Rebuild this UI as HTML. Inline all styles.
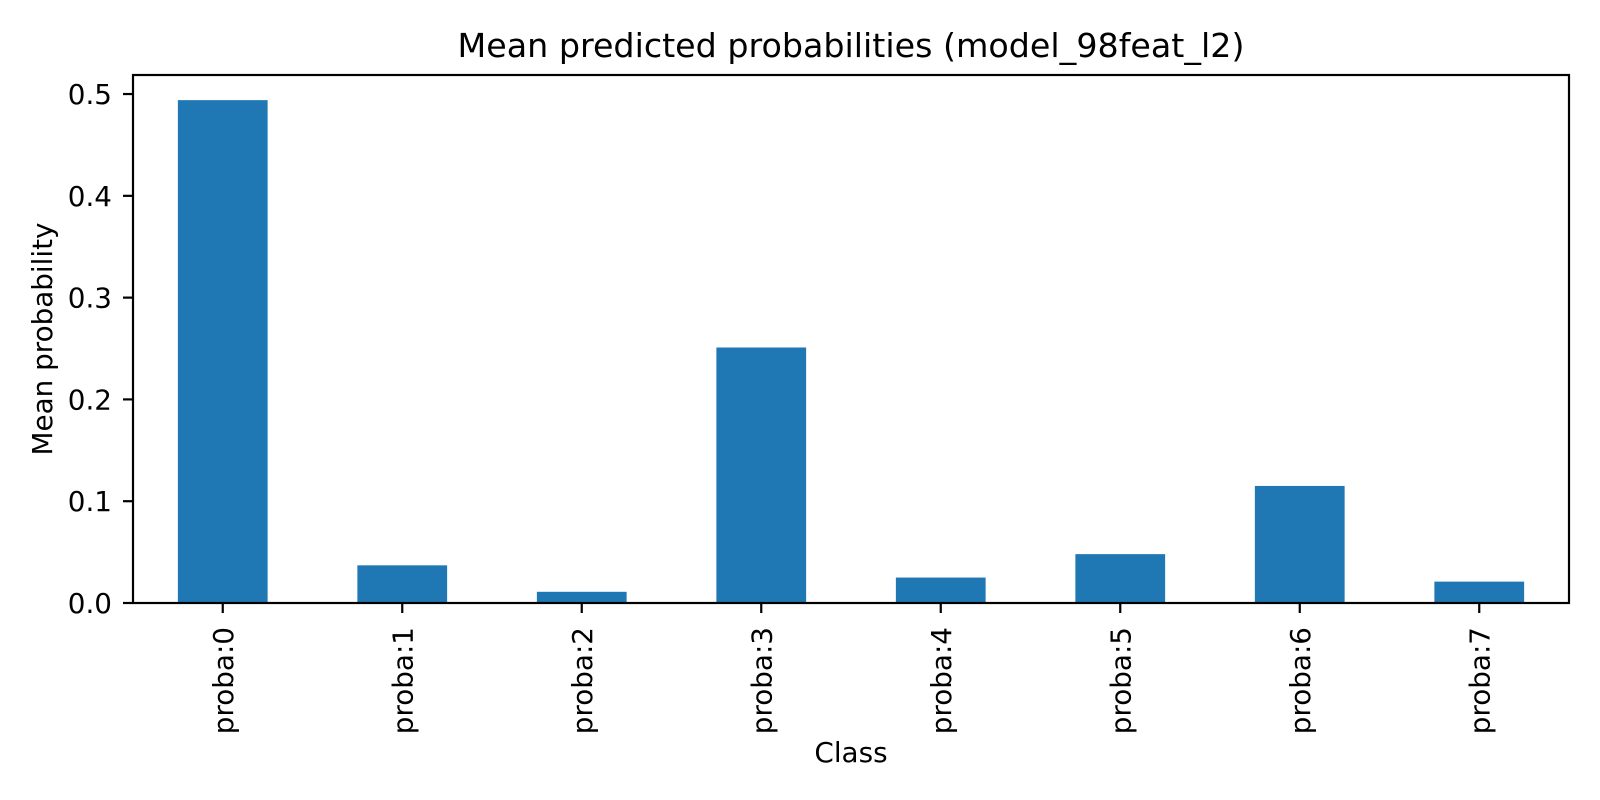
<!DOCTYPE html>
<html><head><meta charset="utf-8"><style>body{margin:0;background:#fff}svg{display:block;font-family:"DejaVu Sans","Liberation Sans",sans-serif}</style></head>
<body>
<svg id="chart" width="1600" height="800"></svg>
<script>
const categories = ["proba:0","proba:1","proba:2","proba:3","proba:4","proba:5","proba:6","proba:7"];
const values = [0.494,0.037,0.011,0.251,0.025,0.048,0.115,0.021];
const yTicks = [0.0,0.1,0.2,0.3,0.4,0.5];
const yTickLabels = ["0.0","0.1","0.2","0.3","0.4","0.5"];

const NS="http://www.w3.org/2000/svg";
const svg=document.getElementById('chart');
const L=133,R=1569,T=75,B=603;
const yMax=0.5187;
const y=v=>B-(v/yMax)*(B-T);
const step=(R-L)/categories.length;
const x=i=>L+step*(i+0.5);
function mk(tag,attrs,parent){const e=document.createElementNS(NS,tag);for(const k in attrs)e.setAttribute(k,attrs[k]);(parent||svg).appendChild(e);return e;}

values.forEach((v,i)=>{
  const r=mk('rect',{x:x(i)-step*0.25,y:y(v),width:step*0.5,height:B-y(v),fill:'#1f77b4'});
  
  
});
yTicks.forEach((t,i)=>{
  const ln=mk('line',{x1:L-10,x2:L,y1:y(t),y2:y(t),stroke:'#000','stroke-width':2.2});
  
  
  const tx=mk('text',{x:L-21,y:y(t)+10,'text-anchor':'end','font-size':27.8});
  tx.textContent=yTickLabels[i];
  
  
});
categories.forEach((c,i)=>{
  const ln=mk('line',{x1:x(i),x2:x(i),y1:B,y2:B+10,stroke:'#000','stroke-width':2.2});
  
  
  const tx=mk('text',{x:0,y:0,'text-anchor':'end','font-size':27.8,transform:`translate(${x(i)+10},${B+24}) rotate(-90)`});
  tx.textContent=c;
  
  
});
const frame=mk('rect',{x:L,y:T,width:R-L,height:B-T,fill:'none',stroke:'#000','stroke-width':2.2});


const title=mk('text',{x:(L+R)/2,y:57,'text-anchor':'middle','font-size':33.3});
title.textContent='Mean predicted probabilities (model_98feat_l2)';


const xt=mk('text',{x:(L+R)/2,y:762,'text-anchor':'middle','font-size':27.8});
xt.textContent='Class';


const yt=mk('text',{x:0,y:0,'text-anchor':'middle','font-size':27.8,transform:`translate(52,${(T+B)/2}) rotate(-90)`});
yt.textContent='Mean probability';


</script>
</body></html>
